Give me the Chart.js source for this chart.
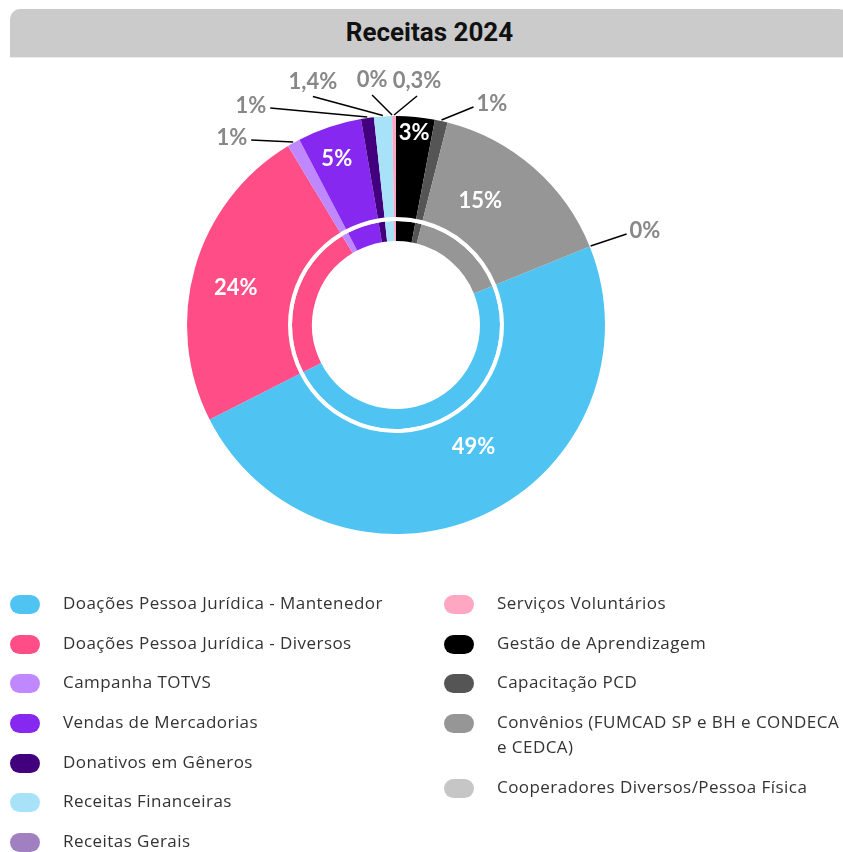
<!DOCTYPE html>
<html lang="pt-BR">
<head>
<meta charset="utf-8">
<title>Receitas 2024</title>
<script src="https://cdn.jsdelivr.net/npm/chart.js@4.4.1/dist/chart.umd.min.js"></script>
<style>
  html, body { margin: 0; padding: 0; background: #fff; width: 843px; height: 852px; overflow: hidden; }
  body { position: relative; font-family: "Open Sans", sans-serif; }
  .titulo {
    position: absolute; left: 10px; top: 9px; width: 839px; height: 48px;
    background: #cbcbcb; border-radius: 10px 10px 0 0; border-bottom: 1px solid #ececec;
    text-align: center; font: 700 26px Roboto, sans-serif; line-height: 46px; color: #111; z-index: 2;
  }
  .grafico { position: absolute; left: 116px; top: 45px; width: 560px; height: 560px; }
  .legenda { position: absolute; top: 590px; }
  .item { display: flex; align-items: flex-start; margin-bottom: 14.7px; line-height: 25px; font-size: 17px; letter-spacing: 0.45px; color: #333; }
  .cor { width: 30px; height: 19px; border-radius: 10px; margin-top: 5px; margin-right: 23px; flex: none; }
</style>
</head>
<body>
<div class="titulo">Receitas 2024</div>
<div class="grafico"><canvas id="receitas"></canvas></div>
<div class="legenda" id="legEsq" style="left:10px; width:420px"></div>
<div class="legenda" id="legDir" style="left:444px; width:397px"></div>

<script>
// categorias na ordem da legenda (e das fatias)
const categorias = [
  "Doações Pessoa Jurídica - Mantenedor",
  "Doações Pessoa Jurídica - Diversos",
  "Campanha TOTVS",
  "Vendas de Mercadorias",
  "Donativos em Gêneros",
  "Receitas Financeiras",
  "Receitas Gerais",
  "Serviços Voluntários",
  "Gestão de Aprendizagem",
  "Capacitação PCD",
  "Convênios (FUMCAD SP e BH e CONDECA e CEDCA)",
  "Cooperadores Diversos/Pessoa Física"
];

// participação de cada receita (%)
const valores = [49, 24, 1, 5, 1, 1.4, 0, 0.3, 3, 1, 15, 0];

const cores = [
  "#4fc4f2", "#ff4d87", "#bf88ff", "#8728f0", "#43007e", "#a8e2f9",
  "#a180c2", "#ffa6c2", "#000000", "#555555", "#969696", "#c6c6c6"
];

// a fatia de Gestão de Aprendizagem começa no topo
const fatiaInicial = "Gestão de Aprendizagem";

// rótulos dentro da fatia: r = posição na espessura do anel, da = desvio do ângulo (graus)
const rotulosDentro = {
  "Doações Pessoa Jurídica - Mantenedor": { r: 0.36, da: -8 },
  "Doações Pessoa Jurídica - Diversos": { r: 0.56, da: -3 },
  "Convênios (FUMCAD SP e BH e CONDECA e CEDCA)": { r: 0.42, da: -7 },
  "Vendas de Mercadorias": { r: 0.68, da: -1 },
  "Gestão de Aprendizagem": { r: 0.84, da: 0 }
};

// rótulos fora, com linha guia a partir da borda da fatia
const rotulosFora = {
  "Campanha TOTVS": { dx: -42, dy: -2, lado: "esq" },
  "Donativos em Gêneros": { dx: -97, dy: -9, lado: "esq" },
  "Receitas Financeiras": { dx: -70, dy: -19, lado: "cima" },
  "Receitas Gerais": { dx: -20, dy: -20, lado: "cima" },
  "Serviços Voluntários": { dx: 23, dy: -19, lado: "cima" },
  "Capacitação PCD": { dx: 32, dy: -13, lado: "dir" },
  "Cooperadores Diversos/Pessoa Física": { dx: 36, dy: -12, lado: "dir" }
};

const total = valores.reduce((a, b) => a + b, 0);
const antes = valores.slice(0, categorias.indexOf(fatiaInicial)).reduce((a, b) => a + b, 0);

function formata(v) {
  return v.toLocaleString("pt-BR") + "%";
}

const rotulos = {
  id: "rotulos",
  afterDatasetsDraw(chart) {
    const ctx = chart.ctx;
    const arcos = chart.getDatasetMeta(0).data;
    ctx.save();
    ctx.font = "700 22px Lato";
    ctx.textBaseline = "middle";
    arcos.forEach((arco, i) => {
      const p = arco.getProps(["x", "y", "startAngle", "endAngle", "innerRadius", "outerRadius"]);
      const meio = (p.startAngle + p.endAngle) / 2;
      const texto = formata(valores[i]);
      const nome = categorias[i];

      const dentro = rotulosDentro[nome];
      if (dentro) {
        const r = p.innerRadius + (p.outerRadius - p.innerRadius) * dentro.r;
        const a = meio + dentro.da * Math.PI / 180;
        ctx.fillStyle = "#fff";
        ctx.textAlign = "center";
        ctx.fillText(texto, p.x + r * Math.cos(a), p.y + r * Math.sin(a));
        return;
      }

      const fora = rotulosFora[nome];
      if (!fora) return;
      const x0 = p.x + (p.outerRadius + 1) * Math.cos(meio);
      const y0 = p.y + (p.outerRadius + 1) * Math.sin(meio);
      const x1 = x0 + fora.dx;
      const y1 = y0 + fora.dy;
      ctx.strokeStyle = "#000";
      ctx.lineWidth = 1.5;
      ctx.beginPath();
      ctx.moveTo(x0, y0);
      ctx.lineTo(x1, y1);
      ctx.stroke();

      ctx.fillStyle = "#888";
      if (fora.lado === "cima") {
        ctx.textAlign = "center";
        ctx.fillText(texto, x1, y1 - 15);
      } else if (fora.lado === "esq") {
        ctx.textAlign = "right";
        ctx.fillText(texto, x1 - 4, y1 - 2);
      } else {
        ctx.textAlign = "left";
        ctx.fillText(texto, x1 + 3, y1 - 3);
      }
    });
    ctx.restore();
  }
};

new Chart(document.getElementById("receitas"), {
  type: "doughnut",
  data: {
    labels: categorias,
    datasets: [
      { data: valores, backgroundColor: cores, borderWidth: 0, weight: 101 },
      // anel branco entre os dois aneis coloridos
      { data: valores, backgroundColor: "#fff", borderWidth: 0, weight: 4 },
      { data: valores, backgroundColor: cores, borderWidth: 0, weight: 20 }
    ]
  },
  options: {
    responsive: true,
    maintainAspectRatio: false,
    animation: false,
    cutout: 84,
    rotation: -360 * antes / total,
    layout: { padding: 71 },
    plugins: {
      legend: { display: false },
      tooltip: { enabled: false }
    }
  },
  plugins: [rotulos]
});

// legenda em duas colunas
categorias.forEach((nome, i) => {
  const item = document.createElement("div");
  item.className = "item";
  item.innerHTML = '<span class="cor" style="background:' + cores[i] + '"></span><span>' + nome + "</span>";
  document.getElementById(i < 7 ? "legEsq" : "legDir").appendChild(item);
});
</script>
</body>
</html>
